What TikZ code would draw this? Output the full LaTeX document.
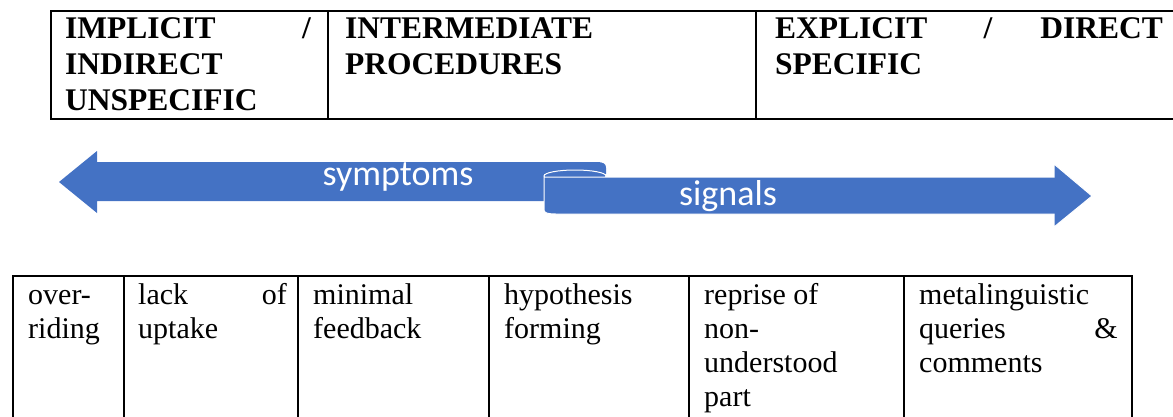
\documentclass[tikz,border=0pt]{standalone}
\usepackage{fontspec}
\setmainfont{Liberation Serif}
\newfontfamily\carlito{Carlito}
\definecolor{arrowblue}{HTML}{4472C4}
\tikzset{
  head/.style={font=\fontsize{31.5}{35}\selectfont\bfseries,inner sep=0pt},
  cell/.style={font=\fontsize{30}{34}\selectfont,inner sep=0pt},
  arrowlabel/.style={font=\carlito\fontsize{36}{40}\selectfont,text=white,inner sep=0pt},
  rule/.style={line width=2pt},
}

\begin{document}
\begin{tikzpicture}[x=1pt,y=-1pt]
\useasboundingbox (0,0) rectangle (1173,416);
% top table
\draw[rule] (1180,11) -- (51,11) -- (51,119) -- (1180,119);
\draw[rule] (328,11) -- (328,119);
\draw[rule] (756,11) -- (756,119);
\node[head,anchor=base west] (implicit) at (65,38) {IMPLICIT};
\node[head,anchor=base east] (slashA) at (311,38) {/};
\node[head,anchor=base west] (indirect) at (65,74) {INDIRECT};
\node[head,anchor=base west] (unspecific) at (65,110) {UNSPECIFIC};
\node[head,anchor=base west] (intermediate) at (345,38) {INTERMEDIATE};
\node[head,anchor=base west] (procedures) at (345,74) {PROCEDURES};
\node[head,anchor=base west] (explicit) at (775,38) {EXPLICIT};
\node[head,anchor=base] (slashB) at (988,38) {/};
\node[head,anchor=base east] (direct) at (1163,38) {DIRECT};
\node[head,anchor=base west] (specific) at (775,74) {SPECIFIC};

% arrows
\fill[arrowblue] (59,182) -- (97,151) -- (97,162) -- (596,162)
  .. controls (604,162) and (606,164) .. (606,168) -- (606,174)
  -- (544,174) -- (544,201) -- (97,201) -- (97,213) -- cycle;
\filldraw[arrowblue,draw=white,line width=1pt] (575,176) ellipse [x radius=31,y radius=6];
\filldraw[arrowblue,draw=white,line width=1pt] (544,177) -- (1054,177) -- (1054,164)
  -- (1092,196) -- (1054,227) -- (1054,214) -- (556,214)
  .. controls (548,214) and (544,213) .. (544,210) -- cycle;
\node[arrowlabel,anchor=base] (symptoms) at (398,185) {symptoms};
\node[arrowlabel,anchor=base] (signals) at (728,205) {signals};

% bottom table
\draw[rule] (13,420) -- (13,276) -- (1132,276) -- (1132,420);
\foreach \x in {124,298,489,689,904}
  \draw[rule] (\x,276) -- (\x,420);
\node[cell,anchor=base west] (over) at (28,304) {over-};
\node[cell,anchor=base west] (riding) at (28,338) {riding};
\node[cell,anchor=base west] (lack) at (138,304) {lack};
\node[cell,anchor=base east] (of) at (287,304) {of};
\node[cell,anchor=base west] (uptake) at (138,338) {uptake};
\node[cell,anchor=base west] (minimal) at (313,304) {minimal};
\node[cell,anchor=base west] (feedback) at (313,338) {feedback};
\node[cell,anchor=base west] (hypothesis) at (504,304) {hypothesis};
\node[cell,anchor=base west] (forming) at (504,338) {forming};
\node[cell,anchor=base west] (reprise) at (704,304) {reprise of};
\node[cell,anchor=base west] (non) at (704,338) {non-};
\node[cell,anchor=base west] (understood) at (704,372) {understood};
\node[cell,anchor=base west] (part) at (704,406) {part};
\node[cell,anchor=base west] (metaling) at (919,304) {metalinguistic};
\node[cell,anchor=base west] (queries) at (919,338) {queries};
\node[cell,anchor=base east] (amp) at (1118,338) {\&};
\node[cell,anchor=base west] (comments) at (919,372) {comments};
\end{tikzpicture}
\end{document}
